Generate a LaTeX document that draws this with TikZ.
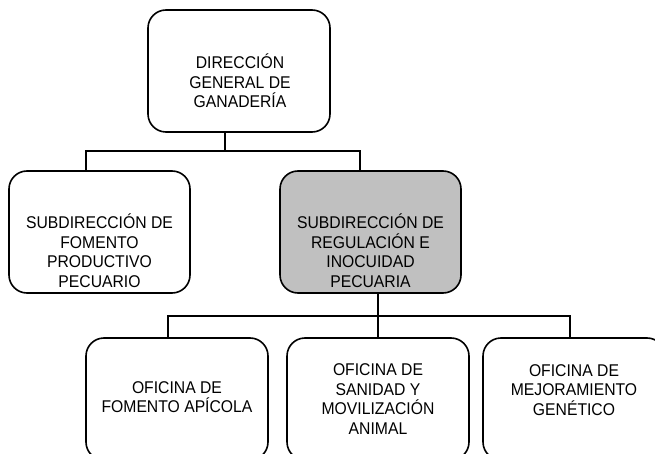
\documentclass[tikz,border=0pt]{standalone}
\usepackage{fontspec}
\setmainfont[FakeStretch=0.925]{Liberation Sans}
\begin{document}
\begin{tikzpicture}[x=1pt,y=-1pt,
  box/.style={draw=black,line width=1.6pt,rounded corners=18pt,minimum width=182pt,minimum height=122pt,inner sep=0pt},
  grayfill/.style={fill=boxgray},
  lbl/.style={align=center,inner sep=0pt,font=\fontsize{17pt}{19.5pt}\selectfont},
  conn/.style={draw=black,line width=1.5pt}]
\definecolor{boxgray}{HTML}{C0C0C0}
\useasboundingbox (0,0) rectangle (655,454);
\clip (0,0) rectangle (655,454);
% boxes
\node[box] (top) at (239,71) {};
\node[box,minimum width=181pt] (subL) at (99.5,232) {};
\node[box,grayfill,minimum width=181pt] (subR) at (370.5,232) {};
\node[box] (b1) at (177,399) {};
\node[box] (b2) at (378,399) {};
\node[box] (b3) at (574,399) {};
% labels
\node[lbl] (tTop) at (240,81) {DIRECCIÓN\\GENERAL DE\\GANADERÍA};
\node[lbl] (tSubL) at (99.5,250.5) {SUBDIRECCIÓN DE\\FOMENTO\\PRODUCTIVO\\PECUARIO};
\node[lbl] (tSubR) at (370.5,250.5) {SUBDIRECCIÓN DE\\REGULACIÓN E\\INOCUIDAD\\PECUARIA};
\node[lbl] (tB1) at (177,397) {OFICINA DE\\FOMENTO APÍCOLA};
\node[lbl] (tB2) at (378,399) {OFICINA DE\\SANIDAD Y\\MOVILIZACIÓN\\ANIMAL};
\node[lbl] (tB3) at (574,390) {OFICINA DE\\MEJORAMIENTO\\GENÉTICO};
% junction coordinates
\coordinate (j1) at (225,151);
\coordinate (dL) at (86,151);
\coordinate (dR) at (360,151);
\coordinate (j2) at (378,316);
\coordinate (e1) at (168,316);
\coordinate (e3) at (570,316);
% connectors
\draw[conn] (top.south -| j1) -- (j1);
\draw[conn] (dL |- subL.north) -- (dL) -- (dR) -- (dR |- subR.north);
\draw[conn] (subR.south -| j2) -- (b2.north);
\draw[conn] (e1 |- b1.north) -- (e1) -- (e3) -- (e3 |- b3.north);
\end{tikzpicture}
\end{document}
